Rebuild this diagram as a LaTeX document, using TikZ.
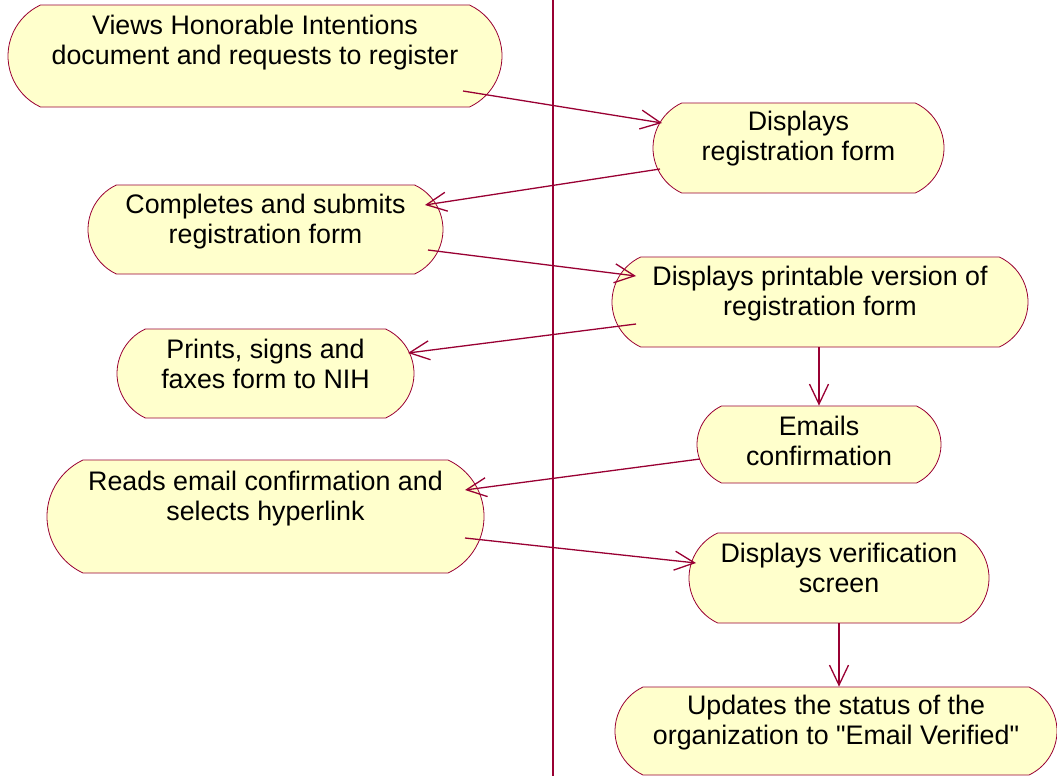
\documentclass[tikz,border=0pt]{standalone}
\usepackage{fontspec}
\setmainfont{Liberation Sans}[Ligatures=TeXOff]
\usetikzlibrary{shapes.misc, arrows.meta, positioning, calc}
\definecolor{roseline}{RGB}{153,0,51}
\definecolor{rosefill}{RGB}{255,255,204}

\begin{document}
\begin{tikzpicture}[
    x=1pt, y=-1pt,
    activity/.style={rounded rectangle, rounded rectangle arc length=130, draw=roseline, fill=rosefill, line width=0.8pt, inner sep=0pt, align=center, font=\fontsize{26.8}{30}\selectfont, text height=50pt, text depth=24pt},
    arrow/.style={draw=roseline, line width=1.3pt, -{Straight Barb[length=20pt,width=19pt,line width=1.3pt]}},
    lane/.style={draw=roseline, line width=1.2pt}
]
\useasboundingbox (0,0) rectangle (1057,776);

\draw[lane] (553,0) -- (553,776);

\node[activity, minimum width=494pt, minimum height=102pt, text depth=34pt] (views) at (255,56) {Views Honorable Intentions\\document and requests to register};
\node[activity, minimum width=291pt, minimum height=90pt, text depth=26pt] (showform) at (798.5,148) {Displays\\registration form};
\node[activity, minimum width=355pt, minimum height=89pt, text depth=23pt] (complete) at (265.5,229.5) {Completes and submits\\registration form};
\node[activity, minimum width=416pt, minimum height=90pt] (showprint) at (820,302) {Displays printable version of\\registration form};
\node[activity, minimum width=297pt, minimum height=89pt, text depth=21pt] (faxform) at (265.5,373.5) {Prints, signs and\\faxes form to NIH};
\node[activity, minimum width=244pt, minimum height=77pt, text depth=9pt] (emails) at (819,444.5) {Emails\\confirmation};
\node[activity, minimum width=437pt, minimum height=113pt, text depth=43pt] (readmail) at (265.5,516.5) {Reads email confirmation and\\selects hyperlink};
\node[activity, minimum width=300pt, minimum height=90pt, text depth=22pt] (verify) at (839,578) {Displays verification\\screen};
\node[activity, minimum width=442pt, minimum height=88pt] (updatestatus) at (836,731) {Updates the status of the\\organization to "Email Verified"};

\draw[arrow] ([shift={(208,35)}]views.center) -- ([shift={(-136.5,-25)}]showform.center);
\draw[arrow] ([shift={(-138.5,21)}]showform.center) -- ([shift={(159.5,-24.5)}]complete.center);
\draw[arrow] ([shift={(162.5,20.5)}]complete.center) -- ([shift={(-184,-26)}]showprint.center);
\draw[arrow] ([shift={(-184,22)}]showprint.center) -- ([shift={(142.5,-20.5)}]faxform.center);
\draw[arrow] ([xshift=-1pt]showprint.south) -- (emails.north);
\draw[arrow] ([shift={(-119,14.5)}]emails.center) -- ([shift={(199.5,-26.5)}]readmail.center);
\draw[arrow] ([shift={(199.5,21.5)}]readmail.center) -- ([shift={(-143,-15)}]verify.center);
\draw[arrow] (verify.south) -- (verify.south |- updatestatus.north);

\end{tikzpicture}
\end{document}
